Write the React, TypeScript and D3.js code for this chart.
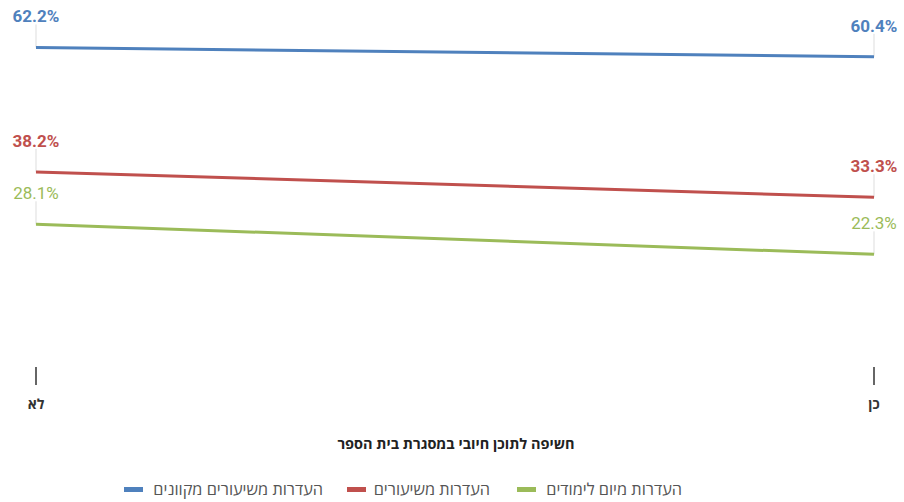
import React from "react";
import * as d3 from "d3";

const categories = ["לא", "כן"];
const seriesNames = ["העדרות משיעורים מקוונים", "העדרות משיעורים", "העדרות מיום לימודים"];
const onlineValues = [62.2, 60.4];
const lessonValues = [38.2, 33.3];
const dayValues = [28.1, 22.3];
const colors = ["#4F81BD", "#C0504D", "#9BBB59"];
const labelWeights = [700, 700, 400];
const axisTitle = "חשיפה לתוכן חיובי במסגרת בית הספר";

const W = 904;
const H = 502;

export default function App() {
  const series = [onlineValues, lessonValues, dayValues];
  const x = d3.scalePoint<string>().domain(categories).range([36, 874]);
  const y = d3.scaleLinear().domain([0, 70]).range([370, 7]);
  const line = d3
    .line<number>()
    .x((_, i) => x(categories[i]) as number)
    .y((d) => y(d));

  const legendItems = [
    { i: 0, sx: 124, tr: 323 },
    { i: 1, sx: 347, tr: 490 },
    { i: 2, sx: 517, tr: 682 },
  ];

  return (
    <svg
      width={W}
      height={H}
      style={{ position: "absolute", left: 0, top: 0, background: "#fff" }}
      fontFamily="Roboto, 'Open Sans', sans-serif"
    >
      {categories.map((c) => (
        <g key={c}>
          <line x1={x(c)} x2={x(c)} y1={367} y2={385} stroke="#333" strokeWidth={1.5} />
          <text
            x={x(c)}
            y={409}
            textAnchor="middle"
            fontSize={14}
            fontWeight={700}
            fill="#333"
            fontFamily="'Open Sans', sans-serif"
          >
            {c}
          </text>
        </g>
      ))}
      <text
        x={456}
        y={449}
        textAnchor="middle"
        fontSize={14.5}
        fontWeight={700}
        fill="#222"
        fontFamily="'Open Sans', sans-serif"
      >
        {axisTitle}
      </text>
      {series.map((vals, si) => (
        <g key={si}>
          {vals.map((v, i) => (
            <line
              key={"l" + i}
              x1={x(categories[i])}
              x2={x(categories[i])}
              y1={y(v) - 23}
              y2={y(v)}
              stroke="#ddd"
              strokeWidth={1}
            />
          ))}
          <path d={line(vals) || ""} fill="none" stroke={colors[si]} strokeWidth={3} />
          {vals.map((v, i) => (
            <text
              key={"t" + i}
              x={x(categories[i])}
              y={y(v) - 25}
              textAnchor="middle"
              fontSize={17}
              fontWeight={labelWeights[si]}
              fill={colors[si]}
            >
              {v.toFixed(1)}%
            </text>
          ))}
        </g>
      ))}
      {legendItems.map((it) => (
        <g key={it.i}>
          <rect x={it.sx} y={487} width={19} height={5} fill={colors[it.i]} />
          <text
            x={it.tr}
            y={495}
            fontSize={16.3}
            fill="#555"
            fontFamily="'Open Sans', sans-serif"
            direction="rtl"
            textAnchor="start"
          >
            {seriesNames[it.i]}
          </text>
        </g>
      ))}
    </svg>
  );
}
